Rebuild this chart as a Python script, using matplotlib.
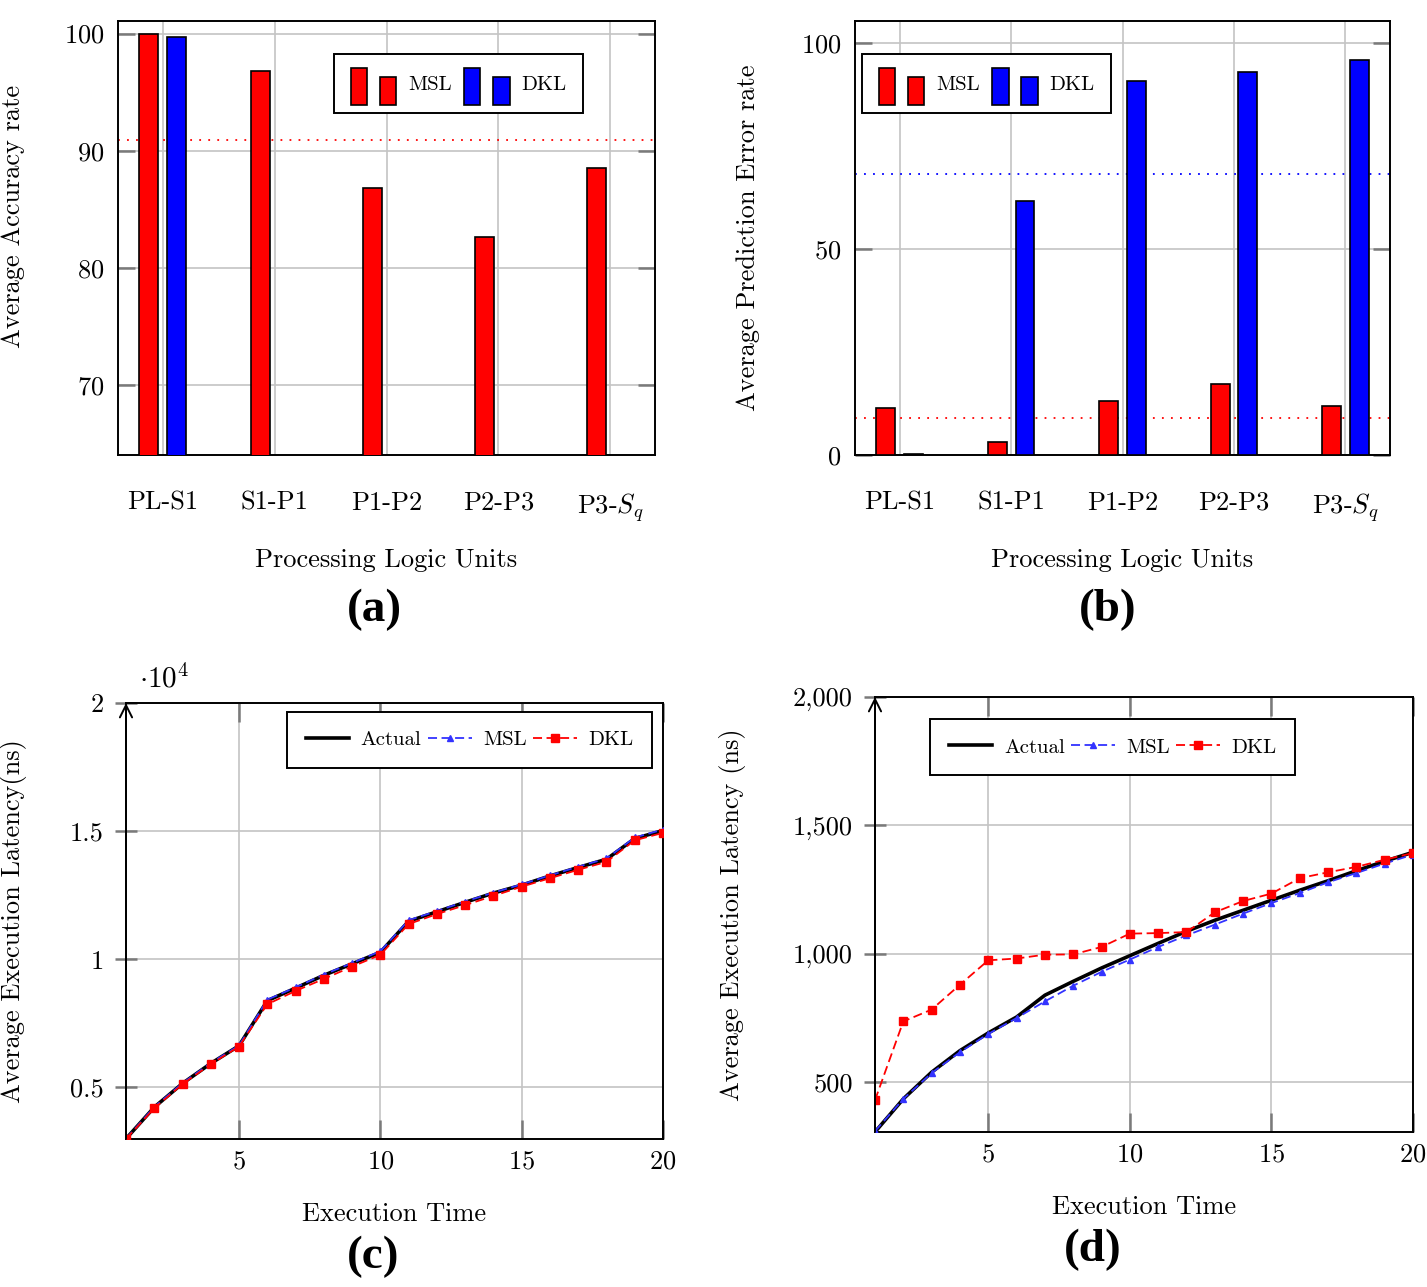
import matplotlib
matplotlib.use('Agg')
import matplotlib.pyplot as plt
import numpy as np
from matplotlib.patches import Rectangle
from matplotlib.legend_handler import HandlerBase
from matplotlib.ticker import FuncFormatter

plt.rcParams['font.family'] = ['cmr10', 'DejaVu Serif']
plt.rcParams['mathtext.fontset'] = 'cm'
plt.rcParams['axes.formatter.use_mathtext'] = True

# ---- data ----
units = ['PL-S1', 'S1-P1', 'P1-P2', 'P2-P3', r'P3-$S_q$']
acc_msl = [99.95, 96.8, 86.8, 82.6, 88.5]
acc_dkl = [99.7, 38.4, 9.2, 6.9, 4.1]
err_msl = [11.5, 3.2, 13.2, 17.3, 11.9]
err_dkl = [0.3, 61.6, 90.8, 93.1, 95.9]

t = list(range(1, 21))
lat_actual_c = [2990, 4220, 5150, 5930, 6620, 8380, 8870, 9370, 9820, 10270,
                11480, 11850, 12220, 12580, 12890, 13250, 13580, 13900, 14710, 15020]
lat_msl_c = [2990, 4230, 5160, 5950, 6630, 8420, 8900, 9400, 9850, 10310,
             11520, 11880, 12250, 12600, 12920, 13270, 13610, 13930, 14750, 15060]
lat_dkl_c = [2980, 4180, 5120, 5900, 6590, 8240, 8760, 9230, 9710, 10170,
             11370, 11760, 12110, 12470, 12830, 13160, 13490, 13800, 14640, 14930]

lat_actual_d = [305, 434, 538, 622, 691, 753, 838, 892, 944, 992,
                1040, 1087, 1130, 1169, 1208, 1247, 1284, 1323, 1360, 1395]
lat_msl_d = [308, 434, 535, 616, 687, 749, 814, 875, 929, 977,
             1026, 1071, 1113, 1156, 1197, 1236, 1278, 1314, 1351, 1386]
lat_dkl_d = [429, 736, 782, 879, 974, 981, 996, 997, 1026, 1078,
             1080, 1084, 1161, 1205, 1234, 1294, 1317, 1338, 1366, 1392]

W, H = 1427, 1287
fig = plt.figure(figsize=(W / 100, H / 100), dpi=100)


def px_axes(l, t_, r, b):
    return fig.add_axes([l / W, 1 - b / H, (r - l) / W, (b - t_) / H])


class HandlerYBar(HandlerBase):
    def create_artists(self, legend, orig_handle, xdescent, ydescent,
                       width, height, fontsize, trans):
        fc = orig_handle.get_facecolor()
        bw = width * 0.36
        x0, y0 = -xdescent, -ydescent - 0.35 * height
        r1 = Rectangle((x0, y0), bw, height * 1.45, fc=fc, ec='black', lw=1.2, transform=trans)
        r2 = Rectangle((x0 + width - bw, y0), bw, height * 1.1, fc=fc, ec='black', lw=1.2, transform=trans)
        return [r1, r2]


grid_c = '#c4c4c4'
tick_c = '#7a7a7a'
LAB = 19


def style(ax):
    ax.grid(True, color=grid_c, lw=1.2)
    ax.set_axisbelow(True)
    for s in ax.spines.values():
        s.set_linewidth(1.4)
    ax.tick_params(labelsize=19)


def set_ylabel(ax, text, x, y=0.5):
    ax.set_ylabel(text, fontsize=LAB)
    ax.yaxis.label.set_va('center')
    ax.yaxis.set_label_coords(x, y)


def bar_panel(ax, msl, dkl, ylim, yticks, ylabel, lab_x, lab_y, legend_x):
    x = np.arange(len(units))
    b1 = ax.bar(x - 0.125, msl, 0.17, color='#ff0000', edgecolor='black', lw=1.2, zorder=3)
    b2 = ax.bar(x + 0.125, dkl, 0.17, color='#0000ff', edgecolor='black', lw=1.2, zorder=3)
    ax.set_xlim(-0.4, 4.4)
    ax.set_ylim(*ylim)
    ax.set_xticks(x)
    ax.set_xticklabels(units)
    ax.set_yticks(yticks)
    style(ax)
    ax.tick_params(axis='x', length=0, pad=26)
    ax.tick_params(axis='y', direction='in', length=12, width=1.8, color=tick_c,
                   left=True, right=True, pad=10)
    set_ylabel(ax, ylabel, lab_x, lab_y)
    ax.set_xlabel('Processing Logic Units', fontsize=LAB)
    ax.xaxis.set_label_coords(0.5, -0.214)
    leg = ax.legend([b1.patches[0], b2.patches[0]], ['MSL', 'DKL'], ncol=2,
                    handler_map={Rectangle: HandlerYBar()},
                    loc='upper left', bbox_to_anchor=(legend_x, 0.923), borderaxespad=0,
                    fontsize=15, frameon=True, fancybox=False, framealpha=1,
                    edgecolor='black', handlelength=2.2, handleheight=1.5,
                    handletextpad=0.55, columnspacing=0.6, borderpad=0.8)
    leg.get_frame().set_linewidth(1.4)
    return b1, b2


# (a)
ax_a = px_axes(118, 20.7, 655, 455)
bar_panel(ax_a, acc_msl, acc_dkl, (64, 101.1), [70, 80, 90, 100],
          'Average Accuracy rate', -0.1955, 0.55, 0.402)
ax_a.axhline(np.mean(acc_msl), color='red', lw=1.3, ls=(0, (1, 4)), zorder=2)

# (b)
ax_b = px_axes(855, 20.7, 1390, 455)
bar_panel(ax_b, err_msl, err_dkl, (0, 105.5), [0, 50, 100],
          'Average Prediction Error rate', -0.2, 0.5, 0.013)
ax_b.axhline(100 - np.mean(acc_msl), color='red', lw=1.3, ls=(0, (1, 4)), zorder=2)
ax_b.axhline(np.mean(err_dkl), color='blue', lw=1.3, ls=(0, (1, 4)), zorder=2)


def line_panel(ax, act, msl, dkl, ymax, yticks, fmt, ylabel, lab_x, leg_loc, leg_anchor):
    ax.plot(t, act, color='black', lw=2.6, label='Actual', zorder=3)
    ax.plot(t, msl, color='#3333ff', lw=1.3, ls=(0, (5, 2.5)), marker='^', ms=5,
            label='MSL', zorder=4)
    ax.plot(t, dkl, color='#ff0000', lw=1.3, ls=(0, (5, 2.5)), marker='s', ms=6,
            label='DKL', zorder=5)
    ax.set_xlim(1, 20)
    ax.set_ylim(min(min(act), min(msl), min(dkl)), ymax)
    ax.set_xticks([5, 10, 15, 20])
    ax.set_yticks(yticks)
    ax.yaxis.set_major_formatter(FuncFormatter(fmt))
    style(ax)
    ax.tick_params(axis='x', direction='in', length=14, width=1.8, color=tick_c,
                   top=True, pad=8)
    ax.tick_params(axis='y', direction='inout', length=16, width=1.8, color=tick_c,
                   pad=8)
    ax.annotate('', xy=(0, 1.0), xytext=(0, 0), xycoords='axes fraction',
                arrowprops=dict(arrowstyle='->', lw=1.4, color='black',
                                mutation_scale=22, shrinkA=0, shrinkB=0), zorder=6)
    ax.set_xlabel('Execution Time', fontsize=LAB)
    ax.xaxis.set_label_coords(0.5, -0.145)
    set_ylabel(ax, ylabel, lab_x)
    leg = ax.legend(ncol=3, loc=leg_loc, bbox_to_anchor=leg_anchor, borderaxespad=0,
                    fontsize=15, frameon=True, fancybox=False, framealpha=1,
                    edgecolor='black', handlelength=2.1, handletextpad=0.55,
                    columnspacing=0.3, borderpad=0.9)
    leg.get_frame().set_linewidth(1.4)


# (c)
ax_c = px_axes(126, 703, 663, 1139)
line_panel(ax_c, lat_actual_c, lat_msl_c, lat_dkl_c, 20000,
           [5000, 10000, 15000, 20000], lambda v, p: f'{v / 1e4:g}',
           'Average Execution Latency(ns)', -0.21, 'upper right', (0.9795, 0.979))
ax_c.text(0.025, 1.022, r'$\cdot 10^4$', transform=ax_c.transAxes, fontsize=21,
          ha='left', va='bottom')

# (d)
ax_d = px_axes(875, 697, 1413, 1132)
line_panel(ax_d, lat_actual_d, lat_msl_d, lat_dkl_d, 2000,
           [500, 1000, 1500, 2000], lambda v, p: f'{v:,.0f}',
           'Average Execution Latency (ns)', -0.264, 'upper left', (0.102, 0.949))

# sub-figure captions
for (cx, cy), s in zip([(374, 610), (1108, 610), (373, 1257), (1093, 1250)],
                       ['(a)', '(b)', '(c)', '(d)']):
    fig.text(cx / W, 1 - cy / H, s, ha='center', va='center', fontsize=34,
             fontweight='bold', family='Liberation Serif')

fig.savefig('out.png', dpi=100)
